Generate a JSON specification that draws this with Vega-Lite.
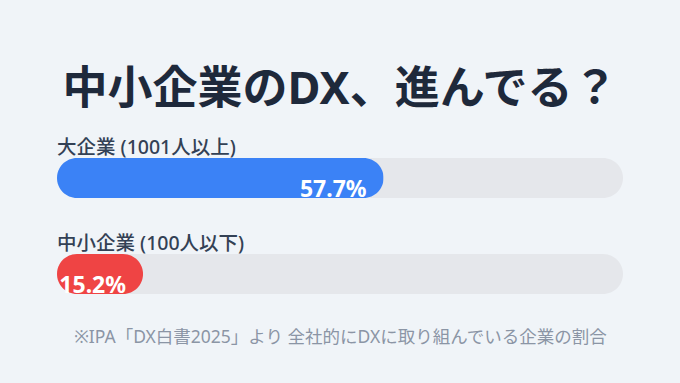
{
  "$schema": "https://vega.github.io/schema/vega-lite/v6.json",
  "width": 566,
  "height": 192,
  "autosize": {"type": "none"},
  "padding": {"left": 57, "right": 57, "top": 130, "bottom": 61},
  "background": "#f0f4f8",
  "config": {"view": {"stroke": null}, "font": "'Noto Sans', 'Noto Sans CJK JP'"},
  "title": {
    "text": "中小企業のDX、進んでる？",
    "fontSize": 45,
    "fontWeight": "bold",
    "color": "#1e293b",
    "anchor": "middle",
    "frame": "group",
    "baseline": "bottom",
    "offset": -28,
    "font": "'Noto Sans', 'Noto Sans CJK JP'"
  },
  "data": {
    "values": [
      {"category": "大企業 (1001人以上)", "value": 57.7, "label": "57.7%"},
      {"category": "中小企業 (100人以下)", "value": 15.2, "label": "15.2%"}
    ]
  },
  "encoding": {
    "y": {
      "field": "category",
      "type": "nominal",
      "sort": null,
      "scale": {"type": "point", "padding": 0.5},
      "axis": null
    }
  },
  "layer": [
    {
      "mark": {"type": "bar", "size": 40, "cornerRadius": 20, "color": "#e5e7eb"},
      "encoding": {
        "x": {
          "datum": 100,
          "type": "quantitative",
          "scale": {"domain": [0, 100], "nice": false, "zero": true},
          "axis": {
            "title": "※IPA「DX白書2025」より 全社的にDXに取り組んでいる企業の割合",
            "titleFontSize": 17.5,
            "titleFontWeight": "normal",
            "titleColor": "#8b95a5",
            "titlePadding": 6,
            "titleFont": "'Noto Sans', 'Noto Sans CJK JP'",
            "labels": false,
            "ticks": false,
            "domain": false,
            "grid": false
          }
        }
      }
    },
    {
      "mark": {"type": "bar", "size": 40, "cornerRadius": 20},
      "encoding": {
        "x": {"field": "value", "type": "quantitative"},
        "color": {
          "field": "category",
          "type": "nominal",
          "scale": {
            "domain": ["大企業 (1001人以上)", "中小企業 (100人以下)"],
            "range": ["#3b82f6", "#ef4444"]
          },
          "legend": null
        }
      }
    },
    {
      "mark": {
        "type": "text",
        "align": "left",
        "baseline": "middle",
        "dy": -30.5,
        "fontSize": 19.5,
        "fontWeight": 500,
        "color": "#334155"
      },
      "encoding": {
        "x": {"datum": 0, "type": "quantitative"},
        "text": {"field": "category"}
      }
    },
    {
      "mark": {
        "type": "text",
        "align": "right",
        "baseline": "alphabetic",
        "dx": -17,
        "dy": 19,
        "fontSize": 23,
        "fontWeight": "bold",
        "color": "#ffffff"
      },
      "encoding": {
        "x": {"field": "value", "type": "quantitative"},
        "text": {"field": "label"}
      }
    }
  ]
}
